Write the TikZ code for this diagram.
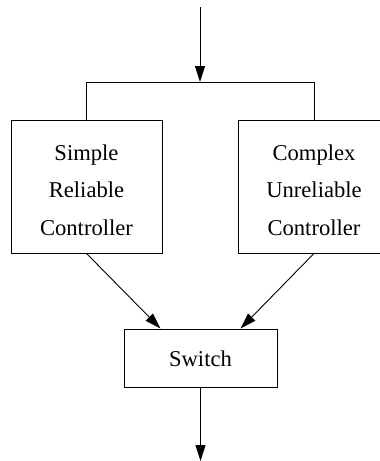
\documentclass[tikz,border=0pt]{standalone}
\usepackage{fontspec}
\setmainfont{Liberation Serif}
\usetikzlibrary{arrows.meta}
\begin{document}
\begin{tikzpicture}[x=1pt,y=-1pt,
  line width=0.9pt,
  blk/.style={draw, rectangle, inner sep=0pt},
  lbl/.style={align=center, inner sep=0pt,
    font=\rmfamily\fontsize{22.6}{37.5}\selectfont},
  flow/.style={-{Triangle[length=16pt,width=10pt]}}]
  \useasboundingbox (0,0) rectangle (380,461);
  \clip (0,0) rectangle (380,461);
  % controller blocks and the switch
  \node[blk, minimum width=151pt, minimum height=133pt] (simple) at (86.5,186.5) {};
  \node[blk, minimum width=152pt, minimum height=133pt] (complex) at (314,186.5) {};
  \node[blk, minimum width=153pt, minimum height=58pt] (switch) at (200.5,358) {};
  \node[lbl] (simpletxt) at ([yshift=-3.5pt]simple.center) {Simple\\Reliable\\Controller};
  \node[lbl] (complextxt) at ([yshift=-3.5pt]complex.center) {Complex\\Unreliable\\Controller};
  \node[lbl] (switchtxt) at ([yshift=-1pt]switch.center) {Switch};
  % input splitting to both controllers
  \coordinate (in) at (200,7);
  \coordinate (join) at (200,82);
  \coordinate (jl) at (86.5,82);
  \coordinate (jr) at (314,82);
  \draw[flow] (in) -- (join);
  \draw (simple.north) -- (jl) -- (jr) -- (complex.north);
  % controllers feeding the switch
  \draw[flow] (simple.south) -- ([xshift=-40pt]switch.north);
  \draw[flow] (complex.south) -- ([xshift=40pt]switch.north);
  % output
  \coordinate (out) at (200.5,461);
  \draw[flow] (switch.south) -- (out);
\end{tikzpicture}
\end{document}
